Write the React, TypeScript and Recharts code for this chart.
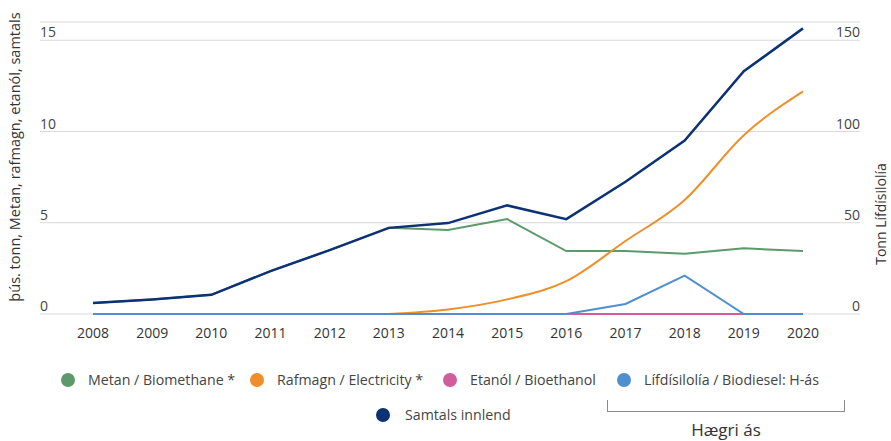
import React from "react";
import {
  LineChart,
  Line,
  XAxis,
  YAxis,
  CartesianGrid,
} from "recharts";

const years = ["2008", "2009", "2010", "2011", "2012", "2013", "2014", "2015", "2016", "2017", "2018", "2019", "2020"];
const metan = [0.6, 0.8, 1.05, 2.35, 3.5, 4.72, 4.6, 5.2, 3.45, 3.45, 3.3, 3.6, 3.45];
const rafmagn = [null, null, null, null, null, 0, 0.25, 0.8, 1.8, 4.0, 6.25, 9.8, 12.2];
const etanol = [0, 0, 0, 0, 0, 0, 0, 0, 0, 0, 0, 0, 0];
const lifdisilolia = [0, 0, 0, 0, 0, 0, 0, 0, 0, 5.5, 21, 0, 0];
const samtals = [0.6, 0.8, 1.05, 2.35, 3.5, 4.72, 4.98, 5.95, 5.2, 7.25, 9.5, 13.3, 15.65];

const leftTicks = [0, 5, 10, 15];
const rightTicks = [0, 50, 100, 150];

const series = [
  { key: "metan", name: "Metan / Biomethane *", color: "#5c9a6b" },
  { key: "rafmagn", name: "Rafmagn / Electricity *", color: "#ef8f2a" },
  { key: "etanol", name: "Etanól / Bioethanol", color: "#cf5f9c" },
  { key: "lifdisilolia", name: "Lífdísilolía / Biodiesel: H-ás", color: "#4f8fd0" },
  { key: "samtals", name: "Samtals innlend", color: "#0c3275" },
];

// legend placement (left edge of dot, top of row)
const legendPos = [
  { left: 61, top: 370 },
  { left: 250, top: 370 },
  { left: 443, top: 370 },
  { left: 617, top: 370 },
  { left: 376, top: 405 },
];

const data = years.map((year, i) => ({
  year,
  metan: metan[i],
  rafmagn: rafmagn[i],
  etanol: etanol[i],
  lifdisilolia: lifdisilolia[i],
  samtals: samtals[i],
}));

const font = "'Open Sans', sans-serif";

const LeftTick = (props: any) => (
  <text x={40} y={props.y - 3} fill="#444" fontSize={14} fontFamily={font} textAnchor="start">
    {props.payload.value}
  </text>
);

const RightTick = (props: any) => (
  <text x={860} y={props.y - 3} fill="#444" fontSize={14} fontFamily={font} textAnchor="end">
    {props.payload.value}
  </text>
);

function LegendItem({ name, color, left, top, gap }: { name: string; color: string; left: number; top: number; gap: number }) {
  return (
    <div
      style={{
        position: "absolute",
        left,
        top,
        display: "flex",
        alignItems: "center",
        whiteSpace: "nowrap",
        fontSize: 14.2,
        color: "#444",
      }}
    >
      <span
        style={{
          width: 14,
          height: 14,
          borderRadius: "50%",
          background: color,
          display: "inline-block",
          marginRight: gap,
        }}
      />
      <span>{name}</span>
    </div>
  );
}

export default function App() {
  return (
    <div style={{ position: "fixed", left: 0, top: 0, width: 891, height: 441, background: "#fff", fontFamily: font }}>
      <LineChart width={891} height={441} data={data} margin={{ top: 22, right: 0, left: 0, bottom: 97 }}>
        <CartesianGrid yAxisId="left" vertical={false} stroke="#d9d9d9" />
        <XAxis
          dataKey="year"
          axisLine={false}
          tickLine={false}
          height={30}
          tickMargin={8}
          padding={{ left: 53, right: 57 }}
          tick={{ fill: "#333", fontSize: 14, fontFamily: font }}
          interval={0}
        />
        <YAxis
          yAxisId="left"
          width={40}
          domain={[0, 16]}
          ticks={leftTicks}
          axisLine={false}
          tickLine={false}
          tick={<LeftTick />}
        />
        <YAxis
          yAxisId="right"
          orientation="right"
          width={31}
          domain={[0, 160]}
          ticks={rightTicks}
          axisLine={false}
          tickLine={false}
          tick={<RightTick />}
        />
        <Line yAxisId="left" type="linear" dataKey="metan" stroke={series[0].color} strokeWidth={2} dot={false} isAnimationActive={false} />
        <Line yAxisId="left" type="monotone" dataKey="rafmagn" stroke={series[1].color} strokeWidth={2} dot={false} isAnimationActive={false} />
        <Line yAxisId="left" type="linear" dataKey="etanol" stroke={series[2].color} strokeWidth={2} dot={false} isAnimationActive={false} />
        <Line yAxisId="right" type="linear" dataKey="lifdisilolia" stroke={series[3].color} strokeWidth={2} dot={false} isAnimationActive={false} />
        <Line yAxisId="left" type="linear" dataKey="samtals" stroke={series[4].color} strokeWidth={2.5} dot={false} isAnimationActive={false} />
      </LineChart>

      <div
        style={{
          position: "absolute",
          left: 14,
          top: 157,
          transform: "translate(-50%, -50%) rotate(-90deg)",
          whiteSpace: "nowrap",
          fontSize: 14.5,
          color: "#333",
        }}
      >
        þús. tonn, Metan, rafmagn, etanól, samtals
      </div>
      <div
        style={{
          position: "absolute",
          left: 880,
          top: 214,
          transform: "translate(-50%, -50%) rotate(-90deg)",
          whiteSpace: "nowrap",
          fontSize: 14,
          color: "#333",
        }}
      >
        Tonn Lífdísilolía
      </div>

      {series.map((s, i) => (
        <LegendItem
          key={s.key}
          name={s.name}
          color={s.color}
          left={legendPos[i].left}
          top={legendPos[i].top}
          gap={i === 4 ? 15 : 13}
        />
      ))}

      <div
        style={{
          position: "absolute",
          left: 607,
          top: 400,
          width: 238,
          height: 12,
          borderLeft: "1.5px solid #8a8a8a",
          borderRight: "1.5px solid #8a8a8a",
          borderBottom: "1.5px solid #8a8a8a",
          boxSizing: "border-box",
        }}
      />
      <div
        style={{
          position: "absolute",
          left: 607,
          width: 238,
          top: 418,
          textAlign: "center",
          fontSize: 17,
          color: "#333",
        }}
      >
        Hægri ás
      </div>
    </div>
  );
}
